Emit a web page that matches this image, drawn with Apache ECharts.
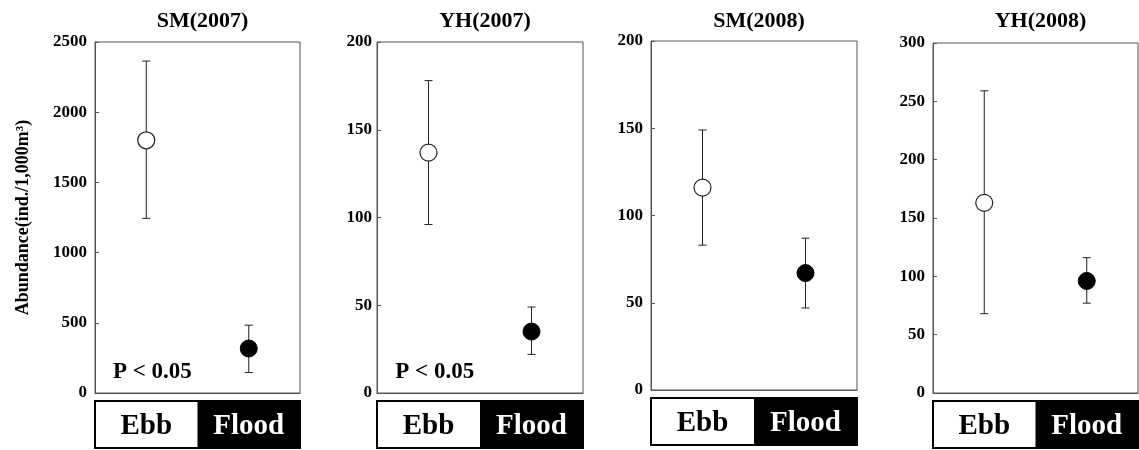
<!DOCTYPE html>
<html>
<head>
<meta charset="utf-8">
<script src="https://cdn.jsdelivr.net/npm/echarts@6/dist/echarts.min.js"></script>
<style>
html,body{margin:0;padding:0;background:#fff;}
#chart{width:1139px;height:450px;}
</style>
</head>
<body>
<div id="chart"></div>
<script>
// ---- data ----
const categories = ['Ebb', 'Flood'];
const panelTitles = ['SM(2007)', 'YH(2007)', 'SM(2008)', 'YH(2008)'];
const yMax = [2500, 200, 200, 300];
const yInterval = [500, 50, 50, 50];
const ebbMean = [1800, 137, 116, 163];
const ebbLow = [1244, 96, 83, 68];
const ebbHigh = [2364, 178, 149, 259];
const floodMean = [317, 35, 67, 96];
const floodLow = [146, 22, 47, 77];
const floodHigh = [483, 49, 87, 116];
const pLabels = ['P < 0.05', 'P < 0.05', '', ''];
const yAxisTitle = 'Abundance(ind./1,000m\u00B3)';

// ---- layout ----
const grids = [
  {left: 95, top: 42, width: 205, height: 351},
  {left: 377, top: 42, width: 206, height: 351},
  {left: 651, top: 41, width: 206, height: 349},
  {left: 933, top: 43, width: 205, height: 350}
];
const labelMargins = [8, 5, 8, 8];
const FONT = '"Liberation Serif", "Times New Roman", serif';

const chart = echarts.init(document.getElementById('chart'), null, {renderer: 'canvas'});

const option = {
  backgroundColor: '#fff',
  animation: false,
  title: [],
  grid: [],
  xAxis: [],
  yAxis: [],
  series: [],
  graphic: []
};

grids.forEach((g, i) => {
  option.grid.push(Object.assign({show: true, borderColor: '#555', borderWidth: 1, backgroundColor: 'transparent', containLabel: false}, g));
  option.title.push({
    text: panelTitles[i],
    left: g.left + g.width / 2,
    top: 5,
    textAlign: 'center',
    textStyle: {fontFamily: FONT, fontWeight: 'bold', fontSize: 22, color: '#000'}
  });
  option.xAxis.push({
    type: 'category', gridIndex: i, data: categories, boundaryGap: true,
    axisLine: {show: true, lineStyle: {color: '#555', width: 1}},
    axisTick: {show: false}, axisLabel: {show: false}, splitLine: {show: false}
  });
  const yAx = {
    type: 'value', gridIndex: i, min: 0, max: yMax[i], interval: yInterval[i],
    axisLine: {show: true, lineStyle: {color: '#555', width: 1}},
    axisTick: {show: true, inside: true, length: 4, lineStyle: {color: '#555'}},
    axisLabel: {fontFamily: FONT, fontWeight: 'bold', fontSize: 17, color: '#000', margin: labelMargins[i],
      formatter: function (v) { return String(v); }},
    splitLine: {show: false}
  };
  if (i === 0) {
    yAx.name = yAxisTitle;
    yAx.nameLocation = 'middle';
    yAx.nameRotate = 90;
    yAx.nameGap = 63;
    yAx.nameTextStyle = {fontFamily: FONT, fontWeight: 'bold', fontSize: 18, color: '#000'};
  }
  option.yAxis.push(yAx);

  // error bars
  option.series.push({
    type: 'custom', xAxisIndex: i, yAxisIndex: i, z: 2,
    data: [[0, ebbLow[i], ebbHigh[i]], [1, floodLow[i], floodHigh[i]]],
    renderItem: function (params, api) {
      const lo = api.coord([api.value(0), api.value(1)]);
      const hi = api.coord([api.value(0), api.value(2)]);
      const cw = 4;
      const st = {stroke: '#222', lineWidth: 1};
      return {type: 'group', children: [
        {type: 'line', shape: {x1: lo[0], y1: lo[1], x2: hi[0], y2: hi[1]}, style: st},
        {type: 'line', shape: {x1: hi[0] - cw, y1: hi[1], x2: hi[0] + cw, y2: hi[1]}, style: st},
        {type: 'line', shape: {x1: lo[0] - cw, y1: lo[1], x2: lo[0] + cw, y2: lo[1]}, style: st}
      ]};
    }
  });
  // means
  option.series.push({
    type: 'scatter', xAxisIndex: i, yAxisIndex: i, z: 3,
    symbol: 'circle', symbolSize: 17,
    itemStyle: {opacity: 1},
    data: [
      {value: [0, ebbMean[i]], itemStyle: {color: '#fff', borderColor: '#222', borderWidth: 1.2, opacity: 1}},
      {value: [1, floodMean[i]], itemStyle: {color: '#000', borderColor: '#000', borderWidth: 1, opacity: 1}}
    ]
  });

  // legend box below plot
  const ly = g.top + g.height + 8;
  const lh = 47;
  const half = g.width / 2;
  option.graphic.push({
    type: 'group', children: [
      {type: 'rect', shape: {x: g.left, y: ly, width: g.width, height: lh}, style: {fill: '#fff', stroke: '#000', lineWidth: 2}},
      {type: 'rect', shape: {x: g.left + half, y: ly, width: half + 1, height: lh}, style: {fill: '#000'}},
      {type: 'text', x: g.left + half / 2, y: ly + lh / 2 + 2, style: {text: categories[0], fill: '#000', font: 'bold 29px ' + FONT, textAlign: 'center', textVerticalAlign: 'middle'}},
      {type: 'text', x: g.left + half * 1.5, y: ly + lh / 2 + 2, style: {text: categories[1], fill: '#fff', font: 'bold 29px ' + FONT, textAlign: 'center', textVerticalAlign: 'middle'}}
    ]
  });
  if (pLabels[i]) {
    option.graphic.push({
      type: 'text', x: g.left + g.width * 0.28, y: g.top + g.height - 21,
      style: {text: pLabels[i], fill: '#000', font: 'bold 23px ' + FONT, textAlign: 'center', textVerticalAlign: 'middle'}
    });
  }
});

chart.setOption(option);
</script>
</body>
</html>
